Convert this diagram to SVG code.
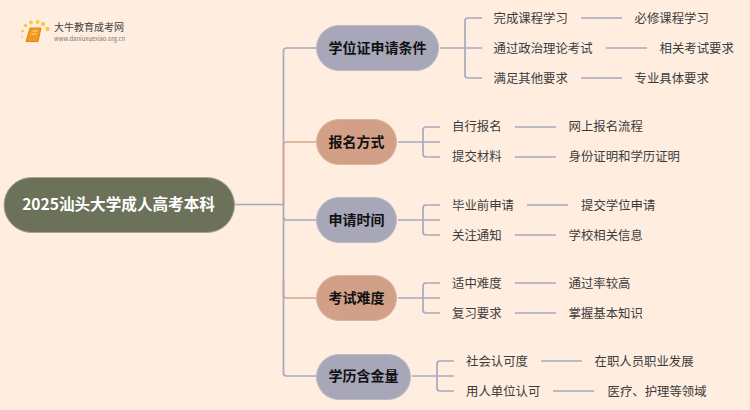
<svg xmlns="http://www.w3.org/2000/svg" width="750" height="410" viewBox="0 0 750 410">
<style>
text{font-family:"Noto Sans CJK SC","Noto Sans",sans-serif}
.c{fill:none;stroke:#a8a8bf;stroke-width:1.7}
.o{fill:none;stroke:#d6a68c;stroke-width:1.7}
.g{fill:#a7a7b9;stroke:#b9b9c8}
.t{fill:#d1a086;stroke:#dcb39d}
.h{font-size:14px;font-weight:700;fill:#111;text-anchor:middle}
.l{font-size:12.400px;fill:#3c3c3c}
</style>
<rect width="750" height="410" fill="#ffeee0"/>
<g id="logo">
<circle cx="22" cy="37" r="1.200" fill="#fbd67a"/><circle cx="22.500" cy="31" r="1.500" fill="#fbc84a"/><circle cx="25.500" cy="25.500" r="1.800" fill="#fbc84a"/><circle cx="31" cy="22.500" r="2" fill="#fbc84a"/><circle cx="37.500" cy="22" r="2" fill="#fbc84a"/><circle cx="43" cy="24" r="2.200" fill="#fbc84a"/><circle cx="47.500" cy="29" r="2.300" fill="#fbc84a"/>
<path d="M30 28h11l-3 13.500h-12z" fill="#f39a1e" stroke="#e0820f" stroke-width="1"/>
<path d="M32.500 31h5M31.500 34h5" stroke="#ffe0a0" stroke-width="1"/>
<text x="54" y="31" font-size="10" fill="#444">大牛教育成考网</text>
<text x="54" y="41" font-size="5.900" fill="#777">www.daniuxuexiao.org.cn</text>
</g>
<g id="connectors">
<path class="o" d="M283.500 280V295Q283.500 298 286.500 298H316"/>
<path class="c" d="M235 204.500H283.500V51Q283.500 48 286.500 48H316"/>
<path class="o" d="M283.500 204.500V145Q283.500 142 286.500 142H316"/>
<path class="c" d="M283.500 204.500V373Q283.500 376 286.500 376H316"/>
<path class="c" d="M283.500 217Q283.500 220 286.500 220H316"/>
<path class="c" d="M440 48H482M465 48V21Q465 18 468 18H482M465 48V75Q465 78 468 78H482"/>
<path class="c" d="M398 142H440M423 142V130Q423 127 426 127H440M423 142V154Q423 157 426 157H440"/>
<path class="c" d="M398 220H440M423 220V208Q423 205 426 205H440M423 220V232Q423 235 426 235H440"/>
<path class="c" d="M398 298H440M423 298V286Q423 283 426 283H440M423 298V310Q423 313 426 313H440"/>
<path class="c" d="M412 376H454M437 376V364Q437 361 440 361H454M437 376V388Q437 391 440 391H454"/>
<path class="c" d="M581 18H622M606 48H647M581 78H622M515 127H556M515 157H556M527 205H568M515 235H556M515 283H556M515 313H556M541 361H582M553 391H594"/>
</g>
<g id="root"><rect x="4" y="177.500" width="230.500" height="55" rx="27.500" fill="#6b7259" stroke="#a6a68e"/><text x="118.500" y="210" font-size="15.600" font-weight="700" fill="#fff" text-anchor="middle">2025汕头大学成人高考本科</text></g>
<g id="n1"><rect class="g" x="316.500" y="25.500" width="122" height="45" rx="22.500"/><text class="h" x="377.500" y="53">学位证申请条件</text></g>
<g id="n2"><rect class="t" x="316.500" y="119.500" width="80" height="45" rx="22.500"/><text class="h" x="356.500" y="147">报名方式</text></g>
<g id="n3"><rect class="g" x="316.500" y="197.500" width="80" height="45" rx="22.500"/><text class="h" x="356.500" y="225">申请时间</text></g>
<g id="n4"><rect class="t" x="316.500" y="275.500" width="80" height="45" rx="22.500"/><text class="h" x="356.500" y="303">考试难度</text></g>
<g id="n5"><rect class="g" x="316.500" y="354.500" width="94" height="45" rx="22.500"/><text class="h" x="363.500" y="381">学历含金量</text></g>
<g id="leaves">
<text class="l" x="493.500" y="22.500">完成课程学习</text><text class="l" x="634.500" y="22.500">必修课程学习</text>
<text class="l" x="493.500" y="52.500">通过政治理论考试</text><text class="l" x="659.500" y="52.500">相关考试要求</text>
<text class="l" x="493.500" y="82.500">满足其他要求</text><text class="l" x="634.500" y="82.500">专业具体要求</text>
<text class="l" x="452" y="131">自行报名</text><text class="l" x="568.500" y="131">网上报名流程</text>
<text class="l" x="452" y="161">提交材料</text><text class="l" x="568.500" y="161">身份证明和学历证明</text>
<text class="l" x="452" y="209.500">毕业前申请</text><text class="l" x="581" y="209.500">提交学位申请</text>
<text class="l" x="452" y="239.500">关注通知</text><text class="l" x="568.500" y="239.500">学校相关信息</text>
<text class="l" x="452" y="287.500">适中难度</text><text class="l" x="568.500" y="287.500">通过率较高</text>
<text class="l" x="452" y="317.500">复习要求</text><text class="l" x="568.500" y="317.500">掌握基本知识</text>
<text class="l" x="466" y="366">社会认可度</text><text class="l" x="594.500" y="366">在职人员职业发展</text>
<text class="l" x="466" y="396">用人单位认可</text><text class="l" x="607.500" y="396">医疗、护理等领域</text>
</g>
</svg>
